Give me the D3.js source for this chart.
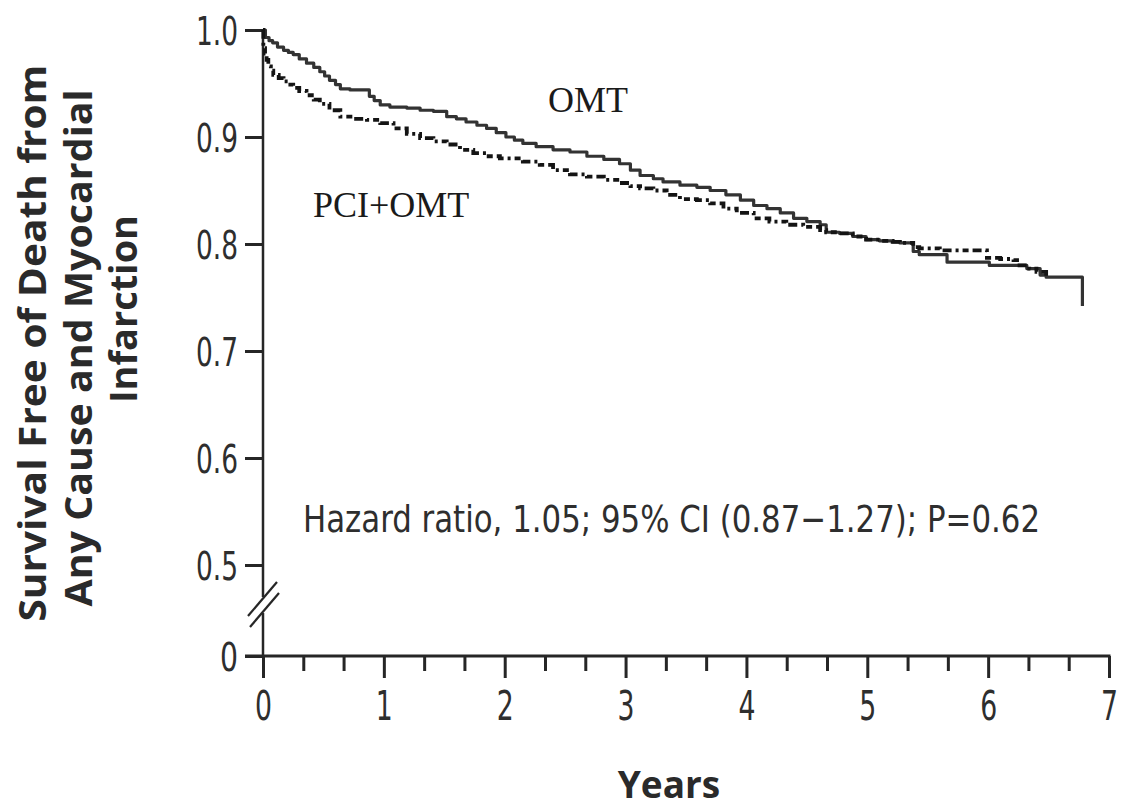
<!DOCTYPE html>
<html>
<head>
<meta charset="utf-8">
<script src="https://cdn.jsdelivr.net/npm/d3@7"></script>
<style>
  html, body { margin: 0; padding: 0; background: #fff; }
  svg { display: block; }
  .tick-label { font-family: "Liberation Sans Narrow", "DejaVu Sans Condensed", sans-serif; fill: #2e2e2e; }
</style>
</head>
<body>
<svg id="chart" width="1137" height="811"></svg>
<script>
// Kaplan–Meier estimates, survival free of death from any cause and MI
const omtYears = [0, 0.02, 0.05, 0.08, 0.12, 0.17, 0.21, 0.25, 0.30, 0.36, 0.42, 0.47, 0.51, 0.55, 0.60, 0.64, 0.72, 0.88, 0.92, 0.97, 1.05, 1.19, 1.30,
  1.41, 1.52, 1.60, 1.68, 1.77, 1.85, 1.93, 2.01, 2.08, 2.15, 2.26, 2.40, 2.54, 2.68, 2.82, 2.95, 3.04, 3.12, 3.23,
  3.31, 3.45, 3.59, 3.70, 3.83, 3.95, 4.06, 4.17, 4.28, 4.39, 4.50, 4.61, 4.66, 4.77, 4.88,
  4.99, 5.10, 5.21, 5.27, 5.38, 5.43, 5.66, 6.01, 6.32, 6.43, 6.48, 6.78];
const omtSurvival = [1.0, 0.993, 0.990, 0.988, 0.984, 0.981, 0.979, 0.977, 0.973, 0.969, 0.965, 0.961, 0.957, 0.953, 0.949, 0.945, 0.944, 0.938, 0.934, 0.930, 0.928, 0.927, 0.925,
  0.924, 0.919, 0.917, 0.914, 0.911, 0.908, 0.904, 0.900, 0.897, 0.894, 0.891, 0.888, 0.886, 0.882, 0.879, 0.875, 0.869, 0.864, 0.861,
  0.858, 0.855, 0.853, 0.850, 0.846, 0.841, 0.836, 0.833, 0.829, 0.824, 0.821, 0.818, 0.811, 0.810, 0.807,
  0.804, 0.803, 0.802, 0.801, 0.793, 0.790, 0.783, 0.780, 0.777, 0.771, 0.769, 0.742];

const pciYears = [0, 0.003, 0.017, 0.03, 0.044, 0.065, 0.085, 0.13, 0.17, 0.21, 0.25, 0.30, 0.36, 0.42, 0.47, 0.55, 0.64, 0.75, 0.86, 0.97, 1.08,
  1.19, 1.30, 1.41, 1.52, 1.63, 1.74, 1.85, 1.96, 2.15, 2.29, 2.40, 2.54, 2.68, 2.82, 2.95,
  3.04, 3.12, 3.23, 3.34, 3.45, 3.59, 3.70, 3.81, 3.92, 4.06, 4.19, 4.33, 4.47, 4.61, 4.66,
  4.77, 4.88, 4.99, 5.10, 5.21, 5.27, 5.38, 5.43, 5.60, 5.99, 6.10, 6.21, 6.26, 6.34, 6.40, 6.48];
const pciSurvival = [1.0, 0.983, 0.978, 0.972, 0.966, 0.962, 0.958, 0.955, 0.952, 0.949, 0.946, 0.943, 0.939, 0.935, 0.931, 0.925, 0.919, 0.917, 0.916, 0.913, 0.908,
  0.903, 0.899, 0.896, 0.893, 0.888, 0.885, 0.882, 0.880, 0.877, 0.874, 0.869, 0.865, 0.863, 0.860, 0.857,
  0.854, 0.852, 0.850, 0.846, 0.842, 0.841, 0.838, 0.833, 0.829, 0.824, 0.821, 0.818, 0.816, 0.813, 0.811,
  0.810, 0.807, 0.804, 0.803, 0.802, 0.801, 0.797, 0.796, 0.794, 0.787, 0.786, 0.785, 0.780, 0.777, 0.774, 0.768];

const xTicks = [0, 1, 2, 3, 4, 5, 6, 7];
const yTicks = [0, 0.5, 0.6, 0.7, 0.8, 0.9, 1.0];
const yTickLabels = ["0", "0.5", "0.6", "0.7", "0.8", "0.9", "1.0"];
const yTitleLines = ["Survival Free of Death from", "Any Cause and Myocardial", "Infarction"];
const xTitle = "Years";
const seriesNames = ["OMT", "PCI+OMT"];
const statsText = "Hazard ratio, 1.05; 95% CI (0.87\u22121.27); P=0.62";

const svg = d3.select("#chart");

// Broken y axis: 0 sits below the break, 0.5–1.0 spread over the plot
const x = d3.scaleLinear().domain([0, 7]).range([263, 1109]);
const y = d3.scaleLinear().domain([0, 0.5, 1.0]).range([656, 565, 30]);

const axisColor = "#262626";

// Y axis ticks and labels
const yAxis = svg.append("g")
  .attr("transform", `translate(${x(0)},0)`)
  .call(d3.axisLeft(y).tickValues(yTicks).tickSize(18).tickPadding(7)
    .tickFormat((d, i) => yTickLabels[i]));
yAxis.select(".domain").remove();
yAxis.selectAll(".tick line").attr("stroke", axisColor).attr("stroke-width", 3);
yAxis.selectAll(".tick text").attr("class", "tick-label")
  .attr("font-size", 39).attr("dy", "0.36em")
  .attr("textLength", (d, i) => yTickLabels[i].length === 1 ? 18 : 42)
  .attr("lengthAdjust", "spacingAndGlyphs");

// Y axis spine with a gap for the break
const breakTop = 597, breakBottom = 613;
svg.append("line").attr("x1", x(0)).attr("x2", x(0))
  .attr("y1", y(1.0) - 1).attr("y2", breakTop)
  .attr("stroke", axisColor).attr("stroke-width", 2.5);
svg.append("line").attr("x1", x(0)).attr("x2", x(0))
  .attr("y1", breakBottom).attr("y2", y(0))
  .attr("stroke", axisColor).attr("stroke-width", 2.5);
// break slashes
[[0, 0], [2, 11]].forEach(([dx, dy]) => {
  svg.append("line")
    .attr("x1", x(0) - 15 + dx).attr("y1", 616 + dy)
    .attr("x2", x(0) + 14 + dx).attr("y2", 582 + dy)
    .attr("stroke", axisColor).attr("stroke-width", 2.2);
});

// X axis: major ticks with labels, minor ticks every third of a year
const xAxis = svg.append("g")
  .attr("transform", `translate(0,${y(0)})`)
  .call(d3.axisBottom(x).tickValues(xTicks).tickSize(22).tickFormat(d3.format("d")));
xAxis.select(".domain").remove();
xAxis.selectAll(".tick line").attr("stroke", axisColor).attr("stroke-width", 3);
xAxis.selectAll(".tick text").attr("class", "tick-label")
  .attr("font-size", 40).attr("dy", "0").attr("y", 64)
  .attr("textLength", 17).attr("lengthAdjust", "spacingAndGlyphs");

const minorTicks = d3.range(0, 7).flatMap(k => [k + 1 / 3, k + 2 / 3]);
const xMinor = svg.append("g")
  .attr("transform", `translate(0,${y(0)})`)
  .call(d3.axisBottom(x).tickValues(minorTicks).tickSize(15).tickFormat(""));
xMinor.select(".domain").remove();
xMinor.selectAll(".tick line").attr("stroke", axisColor).attr("stroke-width", 3);

svg.append("line")
  .attr("x1", x(0) - 18).attr("x2", x(7) + 1.5)
  .attr("y1", y(0)).attr("y2", y(0))
  .attr("stroke", axisColor).attr("stroke-width", 3);

// Survival step curves
const step = d3.line().x(d => x(d[0])).y(d => y(d[1])).curve(d3.curveStepAfter);
const omtPoints = omtYears.map((t, i) => [t, omtSurvival[i]]);
const pciPoints = pciYears.map((t, i) => [t, pciSurvival[i]]);

svg.append("path").datum(omtPoints)
  .attr("d", step).attr("fill", "none")
  .attr("stroke", "#333").attr("stroke-width", 3.2)
  .attr("stroke-linejoin", "round");

svg.append("path").datum(pciPoints)
  .attr("d", step).attr("fill", "none")
  .attr("stroke", "#141414").attr("stroke-width", 3.8)
  .attr("stroke-dasharray", "9 4 3 4 6 4");

// Series labels
svg.append("text").text(seriesNames[0])
  .attr("x", 548).attr("y", 112)
  .attr("font-family", "'Liberation Serif', 'Times New Roman', serif")
  .attr("font-size", 36).attr("fill", "#1a1a1a");
svg.append("text").text(seriesNames[1])
  .attr("x", 313).attr("y", 217)
  .attr("font-family", "'Liberation Serif', 'Times New Roman', serif")
  .attr("font-size", 36).attr("fill", "#1a1a1a");

// Hazard ratio annotation
svg.append("text").text(statsText)
  .attr("class", "tick-label")
  .attr("x", 303).attr("y", 532)
  .attr("font-size", 38)
  .attr("textLength", 737).attr("lengthAdjust", "spacingAndGlyphs");

// Axis titles
svg.append("text").text(xTitle)
  .attr("x", 669).attr("y", 798)
  .attr("text-anchor", "middle")
  .attr("font-family", "'Open Sans', sans-serif").attr("font-weight", 700)
  .attr("font-size", 37).attr("fill", "#2a2a2a");

const yTitle = [
  { bx: 46, cy: 343, len: 557 },
  { bx: 92, cy: 348, len: 517 },
  { bx: 137, cy: 309, len: 188 }
];
yTitleLines.forEach((line, i) => {
  const p = yTitle[i];
  svg.append("text").text(line)
    .attr("transform", `translate(${p.bx},${p.cy}) rotate(-90)`)
    .attr("text-anchor", "middle")
    .attr("font-family", "'Open Sans', sans-serif").attr("font-weight", 700)
    .attr("font-size", 38).attr("fill", "#2a2a2a")
    .attr("textLength", p.len).attr("lengthAdjust", "spacingAndGlyphs");
});
</script>
</body>
</html>
